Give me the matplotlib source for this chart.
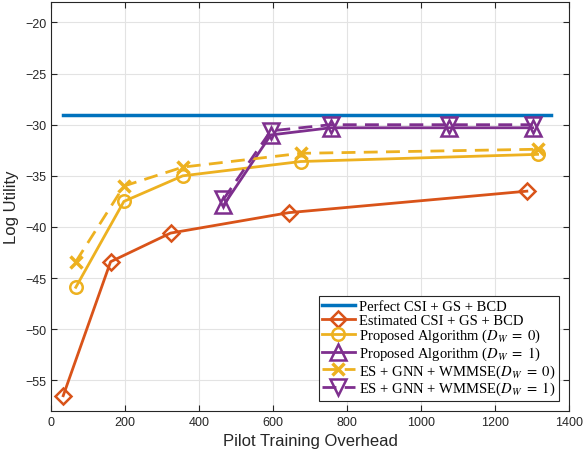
import matplotlib
matplotlib.use("Agg")
import matplotlib.pyplot as plt

# data
perfect_x = [32, 1350]
perfect_y = [-29.1, -29.1]

est_x = [33, 161, 323, 643, 1286]
est_y = [-56.5, -43.4, -40.6, -38.6, -36.5]

prop0_x = [67, 197, 356, 675, 1315]
prop0_y = [-45.9, -37.5, -35.0, -33.6, -32.9]

prop1_x = [466, 594, 756, 1077, 1302]
prop1_y = [-37.9, -31.0, -30.3, -30.3, -30.3]

es0_x = [67, 197, 356, 675, 1315]
es0_y = [-43.4, -36.0, -34.15, -32.8, -32.4]

es1_x = [466, 594, 756, 1077, 1302]
es1_y = [-37.3, -30.6, -30.0, -30.0, -30.0]

blue = "#0072BD"
red = "#D95319"
yellow = "#EDB120"
purple = "#7E2F8E"

plt.rcParams["mathtext.fontset"] = "stix"
plt.rcParams["font.family"] = ["Liberation Sans", "DejaVu Sans"]

fig = plt.figure(figsize=(5.83, 4.6), dpi=100)
ax = fig.add_axes([0.0875, 0.1043, 0.8885, 0.8892])

lw = 2.0
ms = 9
mew = 1.8

ax.plot(perfect_x, perfect_y, color=blue, lw=2.5, label="Perfect CSI + GS + BCD")
ax.plot(est_x, est_y, color=red, lw=lw, marker="D", ms=8, mew=mew,
        fillstyle="none", label="Estimated CSI + GS + BCD")
ax.plot(prop0_x, prop0_y, color=yellow, lw=lw, marker="o", ms=ms, mew=mew,
        fillstyle="none", label=r"Proposed Algorithm ($D_W\ =\ 0$)")
ax.plot(prop1_x, prop1_y, color=purple, lw=lw, marker="^", ms=11, mew=mew,
        fillstyle="none", label=r"Proposed Algorithm ($D_W\ =\ 1$)")
ax.plot(es0_x, es0_y, color=yellow, lw=lw, ls="--", dashes=(5, 3), marker="x",
        ms=8, mew=2.5, label=r"ES + GNN + WMMSE($D_W\ =\ 0$)")
ax.plot(es1_x, es1_y, color=purple, lw=lw, ls="--", dashes=(5, 3), marker="v",
        ms=11, mew=mew, fillstyle="none", label=r"ES + GNN + WMMSE($D_W\ =\ 1$)")

ax.set_xlim(0, 1400)
ax.set_ylim(-58, -18)
ax.set_xticks(range(0, 1401, 200))
ax.set_yticks(range(-55, -19, 5))
ax.grid(True, color="#e3e3e3", lw=0.8)
ax.set_axisbelow(True)
ax.tick_params(direction="in", top=True, right=True, labelsize=9,
               colors="#262626", length=4)
for s in ax.spines.values():
    s.set_color("#262626")
    s.set_linewidth(0.8)

ax.set_xlabel("Pilot Training Overhead", fontsize=12, color="#262626")
ax.set_ylabel("Log Utility", fontsize=12, color="#262626")

leg = ax.legend(loc="lower right", prop={"family": "Liberation Serif", "size": 10.5},
                fancybox=False, edgecolor="#262626", framealpha=1,
                handlelength=2.2, handletextpad=0.3, labelspacing=0.02,
                borderpad=0.25, borderaxespad=0.7)
leg.get_frame().set_linewidth(0.8)

fig.savefig("out.png", dpi=100)
